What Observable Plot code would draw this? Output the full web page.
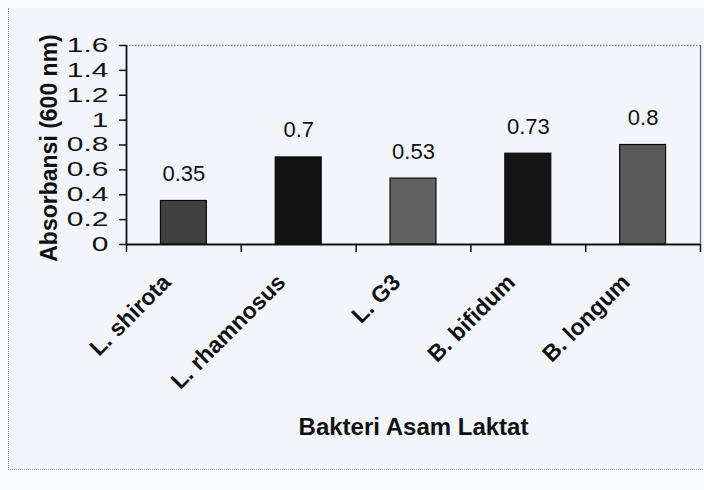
<!DOCTYPE html>
<html><head><meta charset="utf-8">
<script src="https://cdn.jsdelivr.net/npm/d3@7"></script>
<script src="https://cdn.jsdelivr.net/npm/@observablehq/plot@0.6"></script>
<style>
html,body{margin:0;padding:0;background:#f9fbfd;}
#wrap{position:relative;width:704px;height:490px;overflow:hidden;}
#frame{position:absolute;left:8px;top:8px;width:700px;height:461px;border-left:1px dotted #a3a8b0;border-bottom:1px dotted #a3a8b0;background:#f2f6fb;}
#chart{position:absolute;left:0;top:0;}
</style></head><body>
<div id="wrap"><div id="frame"></div><div id="chart"></div></div>
<script>
const categories = ["L. shirota", "L. rhamnosus", "L. G3", "B. bifidum", "B. longum"];
const values = [0.35, 0.7, 0.53, 0.73, 0.8];
const valueLabels = ["0.35", "0.7", "0.53", "0.73", "0.8"];
const barColors = ["#414141", "#121212", "#636363", "#151515", "#595959"];
const yTicks = [0, 0.2, 0.4, 0.6, 0.8, 1, 1.2, 1.4, 1.6];
const yTickLabels = ["0", "0.2", "0.4", "0.6", "0.8", "1", "1.2", "1.4", "1.6"];
const xTitle = "Bakteri Asam Laktat";
const yTitle = "Absorbansi (600 nm)";

const data = categories.map((c, i) => ({c, i, v: values[i], label: valueLabels[i], color: barColors[i]}));
const boundaries = d3.range(categories.length + 1);
const yMax = yTicks[yTicks.length - 1];
const font = "'Liberation Sans', Arial, Helvetica, sans-serif";

const chart = Plot.plot({
  width: 704,
  height: 490,
  marginLeft: 126,
  marginRight: 4,
  marginTop: 45,
  marginBottom: 246,
  style: {fontFamily: font, background: "transparent", color: "#111"},
  x: {type: "linear", domain: [0, categories.length], axis: null},
  y: {domain: [0, yMax], axis: null},
  color: {type: "identity"},
  marks: [
    Plot.ruleY([yMax], {stroke: "#8a8a8a", strokeDasharray: "1.5,1.5", strokeWidth: 1.3}),
    Plot.ruleX([categories.length], {y1: 0, y2: yMax, stroke: "#6a6a6a", strokeWidth: 1.3}),
    Plot.rectY(data, {x1: d => d.i + 0.3, x2: d => d.i + 0.7, y: "v", fill: "color", stroke: "#0a0a0a", strokeWidth: 1.2}),
    Plot.axisY({ticks: yTicks, tickFormat: d => yTickLabels[yTicks.indexOf(d)], tickSize: 7, tickPadding: 11, fontSize: 20, stroke: "#111", strokeWidth: 1.5, label: null}),
    Plot.axisX({ticks: boundaries, tickFormat: () => "", tickSize: 8, stroke: "#111", strokeWidth: 1.5, label: null}),
    Plot.ruleX([0], {stroke: "#111", strokeWidth: 1.8}),
    Plot.ruleY([0], {stroke: "#111", strokeWidth: 1.8}),
    Plot.text(data, {x: d => d.i + 0.5, y: "v", text: "label", dy: -27, fontSize: 22, fill: "#111"}),
    Plot.text(data, {x: d => d.i + 0.5, y: () => 0, text: "c", rotate: -45, textAnchor: "end", dx: -17, dy: 34, fontSize: 23, fontWeight: "bold", fill: "#111"}),
    Plot.text([xTitle], {x: () => categories.length / 2, y: () => 0, text: d => d, dy: 183, fontSize: 24, fontWeight: "bold", fill: "#111"}),
    Plot.text([yTitle], {frameAnchor: "left", text: d => d, rotate: -90, textAnchor: "middle", dx: -77, dy: 3, fontSize: 23, fontWeight: "bold", fill: "#111"})
  ]
});

// widen the y tick labels horizontally, as in the scanned original
d3.select(chart).selectAll('g[aria-label="y-axis tick label"] text').each(function() {
  const t = d3.select(this);
  const tr = t.attr("transform");
  if (tr) {
    t.attr("transform", tr + " scale(1.5,1)");
  } else {
    const x = +t.attr("x") || 0, y = +t.attr("y") || 0;
    t.attr("x", null).attr("y", null).attr("transform", `translate(${x},${y}) scale(1.5,1)`);
  }
});
document.getElementById("chart").append(chart);
</script>
</body></html>
